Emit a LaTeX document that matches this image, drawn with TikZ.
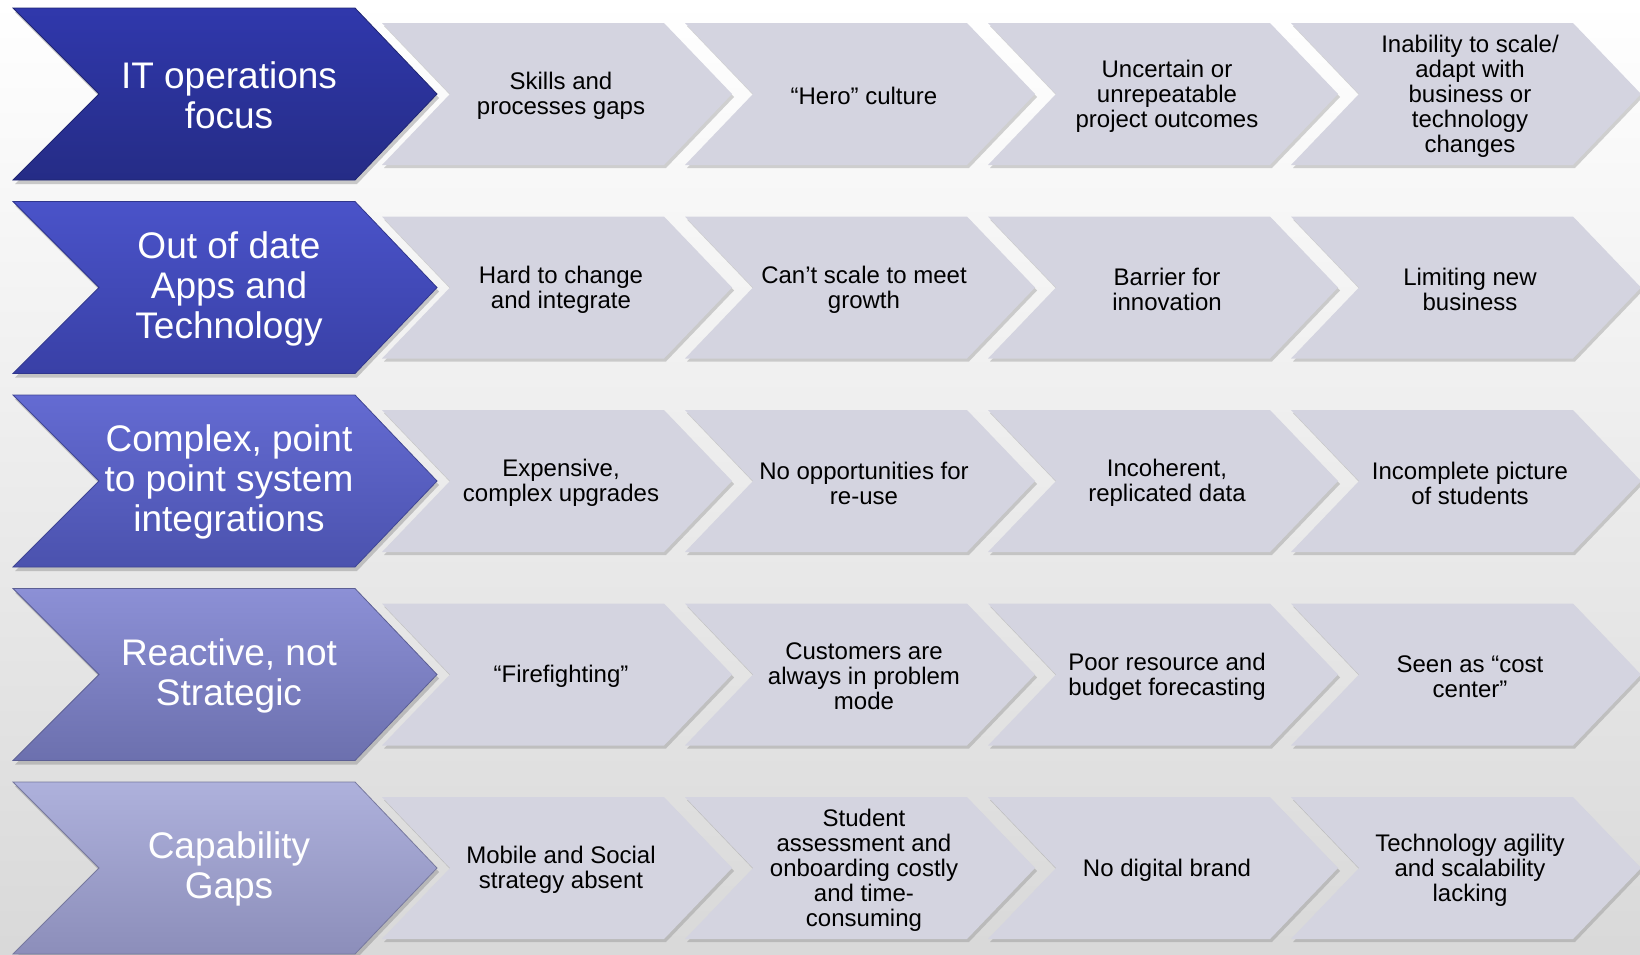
\documentclass[tikz,border=0pt]{standalone}
\usepackage{fontspec}
\setmainfont{Liberation Sans}
\usepackage{tikz}
\usetikzlibrary{shadows}
\definecolor{chevgrey}{HTML}{D4D4E0}
\definecolor{bluetop1}{HTML}{3038AC}
\definecolor{bluebot1}{HTML}{252C86}
\definecolor{bluetop2}{HTML}{4A53C9}
\definecolor{bluebot2}{HTML}{3940A6}
\definecolor{bluetop3}{HTML}{646BD2}
\definecolor{bluebot3}{HTML}{4B52AE}
\definecolor{bluetop4}{HTML}{8C90D6}
\definecolor{bluebot4}{HTML}{6C70AE}
\definecolor{bluetop5}{HTML}{AEB1DC}
\definecolor{bluebot5}{HTML}{8C8EBA}
\tikzset{
  greychev/.style={fill=chevgrey, drop shadow={shadow xshift=1pt, shadow yshift=-1.5pt, opacity=0.35}},
  greytext/.style={align=center, text=black, font=\fontsize{12}{12.5}\selectfont},
  bluetext/.style={align=center, text=white, font=\fontsize{18.5}{20}\selectfont},
}

\begin{document}
\begin{tikzpicture}[x=0.5pt,y=-0.5pt]
  \useasboundingbox (0,0) rectangle (1640,954);
  %background
  \shade[top color=black!15, bottom color=black!15, middle color=white] (0,-954) rectangle (1640,954);

  \foreach \r/\lbl/\ta/\tb/\tc/\td in {
    1/{IT operations\\focus}/{Skills and\\processes gaps}/{“Hero” culture}/{Uncertain or\\unrepeatable\\project outcomes}/{Inability to scale/\\adapt with\\business or\\technology\\changes},
    2/{Out of date\\Apps and\\Technology}/{Hard to change\\and integrate}/{Can’t scale to meet\\growth}/{Barrier for\\innovation}/{Limiting new\\business},
    3/{Complex, point\\to point system\\integrations}/{Expensive,\\complex upgrades}/{No opportunities for\\re-use}/{Incoherent,\\replicated data}/{Incomplete picture\\of students},
    4/{Reactive, not\\Strategic}/{“Firefighting”}/{Customers are\\always in problem\\mode}/{Poor resource and\\budget forecasting}/{Seen as “cost\\center”},
    5/{Capability\\Gaps}/{Mobile and Social\\strategy absent}/{Student\\assessment and\\onboarding costly\\and time-\\consuming}/{No digital brand}/{Technology agility\\and scalability\\lacking}} {
    \pgfmathsetmacro{\cy}{94+193.5*(\r-1)}

    %grey steps
    \foreach \k/\txt in {0/\ta,1/\tb,2/\tc,3/\td} {
      \pgfmathsetmacro{\lx}{382+303*\k}
      \fill[greychev] (\lx,\cy-71) -- ++(282,0) -- ++(68,71) -- ++(-68,71) -- ++(-282,0) -- ++(68,-71) -- cycle;
      \node[greytext] (step\r\k) at (\lx+179,\cy+2) {\txt};
    }

    %blue head
    \shade[top color=bluetop\r, bottom color=bluebot\r, draw=bluebot\r!85!black, line width=0.4pt,
      drop shadow={shadow xshift=1pt, shadow yshift=-2pt, opacity=0.4}]
      (13,\cy-86) -- (355,\cy-86) -- (437,\cy) -- (355,\cy+86) -- (13,\cy+86) -- (99,\cy) -- cycle;
    \node[bluetext] (head\r) at (229,\cy+1) {\lbl};
  }
\end{tikzpicture}
\end{document}
